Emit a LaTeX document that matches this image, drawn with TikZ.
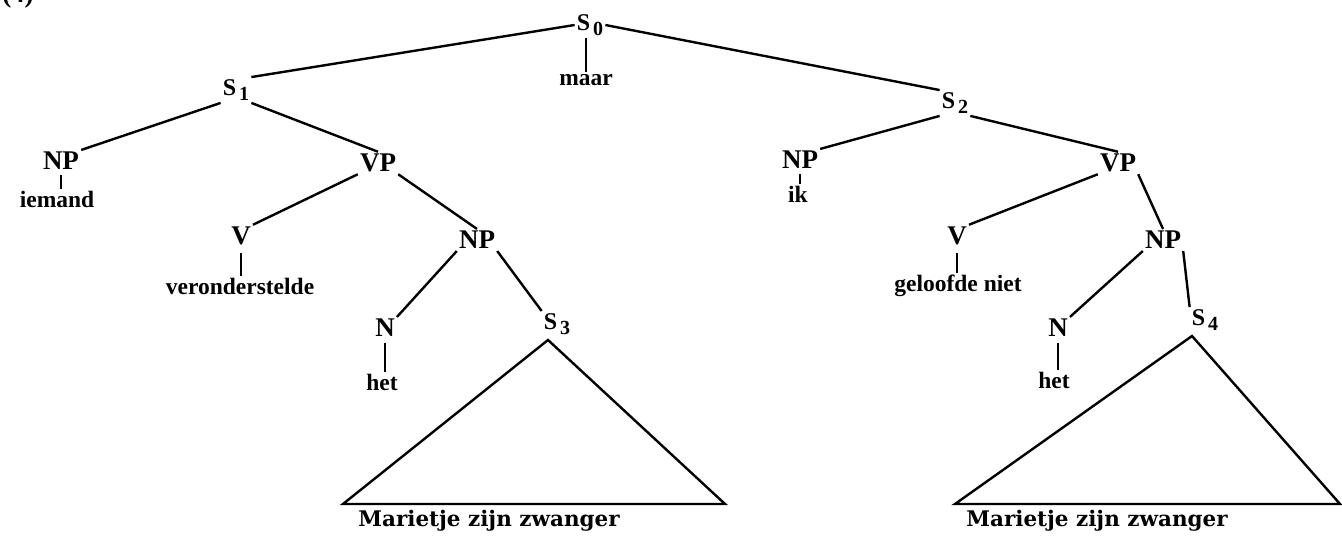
\documentclass[tikz,border=0pt]{standalone}
\usepackage{fontspec}
\setmainfont{Liberation Serif}
\newfontfamily\bottomfont{DejaVu Serif}
\newcommand\Ssub[1]{{\fontsize{24}{26}\selectfont S}\kern3pt\raisebox{-0.45ex}{\fontsize{20}{22}\selectfont #1}}
\tikzset{
  lab/.style={inner sep=2pt, font=\fontsize{27}{30}\selectfont\bfseries},
  word/.style={inner sep=2pt, font=\fontsize{23.5}{26}\selectfont\bfseries},
  base/.style={inner sep=1pt, font=\fontsize{21.5}{24}\selectfont\bottomfont\bfseries},
  edge/.style={line width=2.4pt},
}
\begin{document}
\begin{tikzpicture}[x=1pt,y=-1pt]
\clip (0,0) rectangle (1342,537);
\node[lab] (num) at (18,-4) {(4)};
% root
\node[lab] (S0) at (590,25) {\Ssub{0}};
\node[word] (maar) at (586,80) {maar};
% left
\node[lab] (S1) at (236,90) {\Ssub{1}};
\node[lab] (NPa) at (61,161) {NP};
\node[word] (iemand) at (57,199) {iemand};
\node[lab] (VPa) at (378,163) {VP};
\node[lab] (Va) at (241,236) {V};
\node[word] (veron) at (240,286) {veronderstelde};
\node[lab] (NPb) at (477,240) {NP};
\node[lab] (Na) at (385,328) {N};
\node[word] (heta) at (382,382) {het};
\node[lab] (S3) at (557,324) {\Ssub{3}};
\coordinate (T3a) at (548,340);
\coordinate (T3l) at (343,504);
\coordinate (T3r) at (725,504);
\node[base] (M3) at (489,521) {Marietje zijn zwanger};
% right
\node[lab] (S2) at (955,103) {\Ssub{2}};
\node[lab] (NPc) at (800,160) {NP};
\node[word] (ik) at (798,194) {ik};
\node[lab] (VPb) at (1118,163) {VP};
\node[lab] (Vb) at (957,236) {V};
\node[word] (gel) at (958,286) {geloofde niet};
\node[lab] (NPd) at (1163,240) {NP};
\node[lab] (Nb) at (1058,328) {N};
\node[word] (hetb) at (1054,380) {het};
\node[lab] (S4) at (1205,320) {\Ssub{4}};
\coordinate (T4a) at (1192,336);
\coordinate (T4l) at (955,504);
\coordinate (T4r) at (1340,504);
\node[base] (M4) at (1097,521) {Marietje zijn zwanger};
% edges
\draw[edge] (S0.west) -- (S1.north east);
\draw[edge] (maar.north |- S0.south) -- (maar.north);
\draw[edge] (S0.east) -- (S2.north west);
\draw[edge] (S1.south west) -- (NPa.north east);
\draw[edge] (S1.south east) -- (VPa.north);
\draw[edge] ([yshift=-3pt]NPa.south) -- (NPa.south |- iemand.north);
\draw[edge] (VPa.south west) -- (Va.north east);
\draw[edge] (VPa.south east) -- (NPb.north);
\draw[edge] ([yshift=-6pt]Va.south) -- (Va.south |- veron.north);
\draw[edge] (NPb.south west) -- (Na.north east);
\draw[edge] (NPb.south east) -- (S3.north west);
\draw[edge] ([yshift=-4pt]Na.south) -- (Na.south |- heta.north);
\draw[edge, line join=miter] (T3a) -- (T3r) -- (T3l) -- cycle;
\draw[edge] (S2.south west) -- (NPc.north east);
\draw[edge] (S2.south east) -- (VPb.north);
\draw[edge] ([yshift=-3pt]NPc.south) -- (NPc.south |- ik.north);
\draw[edge] (VPb.south west) -- (Vb.north east);
\draw[edge] (VPb.south east) -- (NPd.north);
\draw[edge] ([yshift=-6pt]Vb.south) -- (Vb.south |- gel.north);
\draw[edge] (NPd.south west) -- (Nb.north east);
\draw[edge] (NPd.south east) -- (S4.north west);
\draw[edge] ([yshift=-4pt]Nb.south) -- (Nb.south |- hetb.north);
\draw[edge, line join=miter] (T4a) -- (T4r) -- (T4l) -- cycle;
\end{tikzpicture}
\end{document}
